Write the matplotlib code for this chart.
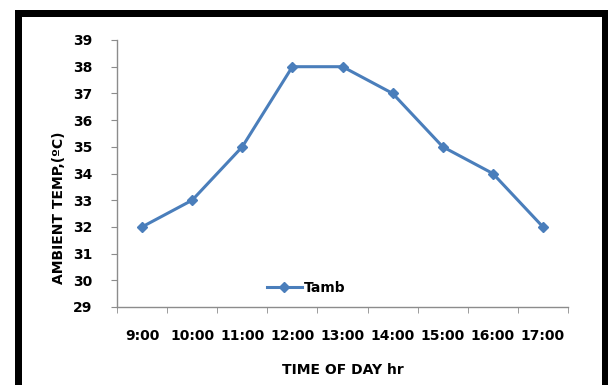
import matplotlib
matplotlib.use('Agg')
import matplotlib.pyplot as plt
from matplotlib.patches import Rectangle
import numpy as np

# datos
hours = ['9:00', '10:00', '11:00', '12:00', '13:00', '14:00', '15:00', '16:00', '17:00']
tamb = [32, 33, 35, 38, 38, 37, 35, 34, 32]
y_ticks = list(range(29, 40))

W, H = 608, 385
fig = plt.figure(figsize=(W / 100, H / 100), dpi=100)
ax = fig.add_axes([117 / W, 1 - 307 / H, (568 - 117) / W, (307 - 40) / H])

x = np.arange(len(hours))
ax.plot(x, tamb, color='#4a7ebb', lw=2.2, marker='D', ms=5,
        markerfacecolor='#4a7ebb', markeredgecolor='#4a7ebb', label='Tamb')

ax.set_xlim(-0.5, len(hours) - 0.5)
ax.set_ylim(29, 39)
ax.set_yticks(y_ticks)
ax.set_xticks(x)
ax.set_xticklabels(hours)
ax.set_xticks(np.arange(len(hours) + 1) - 0.5, minor=True)

for s in ['top', 'right']:
    ax.spines[s].set_visible(False)
for s in ['left', 'bottom']:
    ax.spines[s].set_color('#8c8c8c')
    ax.spines[s].set_linewidth(1)

ax.tick_params(axis='y', direction='out', length=4, color='#8c8c8c', pad=14,
               labelsize=10)
ax.tick_params(axis='x', which='major', length=0, pad=16, labelsize=10)
ax.tick_params(axis='x', which='minor', direction='out', length=4, color='#8c8c8c')
for lbl in ax.get_xticklabels() + ax.get_yticklabels():
    lbl.set_fontweight('bold')

ax.set_xlabel('TIME OF DAY hr', fontsize=10, fontweight='bold', va='center')
ax.xaxis.set_label_coords(0.501, -0.236)
ax.set_ylabel('AMBIENT TEMP,(ºC)', fontsize=10, fontweight='bold', va='center')
ax.yaxis.set_label_coords(-0.128, 0.37)

leg = ax.legend(loc='lower center', bbox_to_anchor=(0.42, 0.0), frameon=False,
                fontsize=10, handlelength=2.5, handletextpad=0.2)
for t in leg.get_texts():
    t.set_fontweight('bold')

# marco negro alrededor del gráfico
lw_px = 7
fig.patches.append(Rectangle((17.5 / W, -0.1), (605 - 17.5) / W, 1.1 - 13.5 / H,
                             transform=fig.transFigure, fill=False,
                             edgecolor='black', linewidth=lw_px * 0.72))

fig.savefig('out.png', dpi=100)
